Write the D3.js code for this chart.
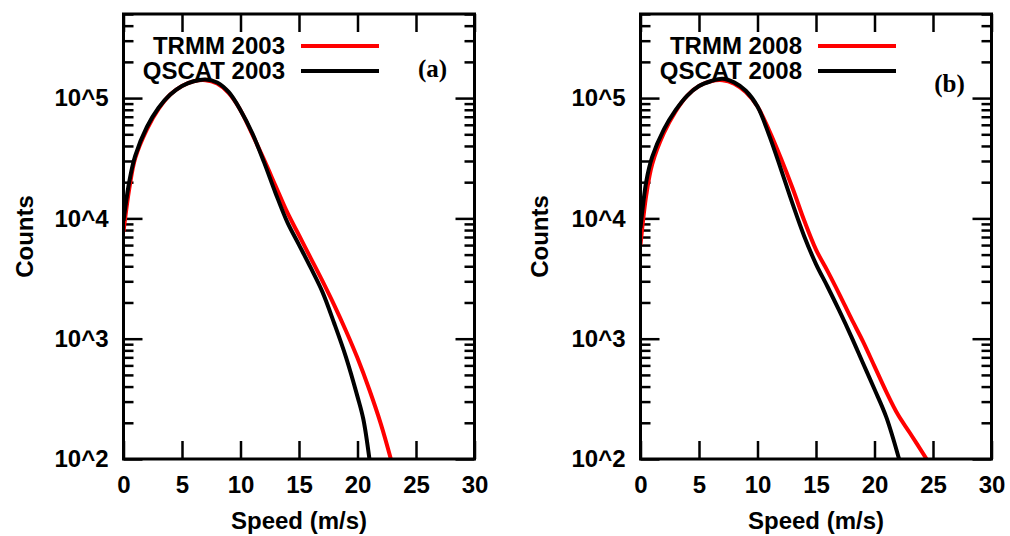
<!DOCTYPE html>
<html>
<head>
<meta charset="utf-8">
<script src="https://cdn.jsdelivr.net/npm/d3@7"></script>
<style>
  body { margin: 0; background: #fff; }
  svg { display: block; }
  text { font-family: "Liberation Sans", Arial, Helvetica, sans-serif; font-weight: bold; fill: #000; }
</style>
</head>
<body>
<svg id="chart" width="1010" height="536"></svg>
<script>
// wind speed (m/s) and counts
var trmm2003Speed  = [0, 0.5, 1, 2, 3, 4, 5, 6, 7, 8, 9, 10, 11, 12, 13, 14, 15, 16, 17, 18, 19, 20, 21, 22, 22.85];
var trmm2003Count  = [7760, 17800, 31600, 55000, 81300, 107000, 126000, 138000, 141000, 132000, 110000, 79400, 50100, 30900, 18600, 11200, 7240, 4680, 3020, 1910, 1170, 690, 380, 195, 100];
var qscat2003Speed = [0, 0.5, 1, 2, 3, 4, 5, 6, 7, 8, 9, 10, 11, 12, 13, 14, 15, 16, 17, 18, 19, 20, 20.5, 21.02];
var qscat2003Count = [9550, 20400, 33100, 57500, 83200, 107000, 126000, 138000, 143000, 135000, 112000, 79400, 51300, 29500, 16200, 9300, 6030, 3890, 2450, 1350, 710, 330, 214, 100];

var trmm2008Speed  = [0, 0.5, 1, 2, 3, 4, 5, 6, 7, 8, 9, 10, 11, 12, 13, 14, 15, 16, 17, 18, 19, 20, 21, 22, 23, 24.45];
var trmm2008Count  = [6030, 15800, 28200, 51300, 77600, 105000, 126000, 138000, 141000, 132000, 112000, 85100, 53700, 31600, 17800, 9550, 5500, 3630, 2340, 1480, 955, 589, 363, 234, 166, 100];
var qscat2008Speed = [0, 0.5, 1, 2, 3, 4, 5, 6, 7, 8, 9, 10, 11, 12, 13, 14, 15, 16, 17, 18, 19, 20, 21, 22.1];
var qscat2008Count = [8320, 20400, 32400, 55000, 79400, 105000, 126000, 138000, 145000, 135000, 115000, 85100, 49000, 25700, 13200, 7080, 4170, 2690, 1700, 1050, 631, 380, 224, 100];

var xTicks = [0, 5, 10, 15, 20, 25, 30];
var yMajor = [100, 1000, 10000, 100000];
var yLabels = ["10^2", "10^3", "10^4", "10^5"];

var panels = [
  { left: 123.5, tag: "(a)", tagY: 77, titleX: 33,
    series: [
      { name: "TRMM 2003", color: "#ff0000", speed: trmm2003Speed, count: trmm2003Count },
      { name: "QSCAT 2003", color: "#000000", speed: qscat2003Speed, count: qscat2003Count }
    ] },
  { left: 640.5, tag: "(b)", tagY: 92, titleX: 548,
    series: [
      { name: "TRMM 2008", color: "#ff0000", speed: trmm2008Speed, count: trmm2008Count },
      { name: "QSCAT 2008", color: "#000000", speed: qscat2008Speed, count: qscat2008Count }
    ] }
];

var plotTop = 14, plotBottom = 459, w = 351;
var svg = d3.select("#chart");

// minor ticks 2..9 within each decade up to 5e5
var yMinor = [];
yMajor.forEach(function(d) {
  for (var k = 2; k <= 9; k++) { if (d * k <= 500000) yMinor.push(d * k); }
});

panels.forEach(function(p, pi) {
  var h = plotBottom - plotTop;
  var x = d3.scaleLinear().domain([0, 30]).range([0, w]);
  var y = d3.scaleLog().domain([100, 500000]).range([h, 0]);

  var g = svg.append("g").attr("transform", "translate(" + p.left + "," + plotTop + ")");

  g.append("clipPath").attr("id", "clip" + pi)
    .append("rect").attr("width", w).attr("height", h);

  // axes, ticks pointing inward
  g.append("g").call(d3.axisLeft(y).tickValues(yMajor).tickSize(-19).tickPadding(15)
    .tickFormat(function(d, i) { return yLabels[i]; }));
  g.append("g").call(d3.axisLeft(y).tickValues(yMinor).tickSize(-10).tickFormat(""));
  g.append("g").attr("transform", "translate(" + w + ",0)")
    .call(d3.axisRight(y).tickValues(yMajor).tickSize(-19).tickFormat(""));
  g.append("g").attr("transform", "translate(" + w + ",0)")
    .call(d3.axisRight(y).tickValues(yMinor).tickSize(-10).tickFormat(""));
  g.append("g").attr("transform", "translate(0," + h + ")")
    .call(d3.axisBottom(x).tickValues(xTicks).tickSize(-18).tickPadding(17));
  g.append("g").call(d3.axisTop(x).tickValues(xTicks).tickSize(-18).tickFormat(""));

  g.selectAll(".domain").remove();
  g.selectAll(".tick line").attr("stroke", "#000").attr("stroke-width", 2.5);
  g.selectAll(".tick text").attr("font-family", null).attr("font-size", null)
    .style("font-size", "24px").attr("fill", "#000");

  // curves
  var line = d3.line()
    .x(function(d) { return x(d[0]); })
    .y(function(d) { return y(d[1]); })
    .curve(d3.curveCatmullRom.alpha(0.5));

  var curves = g.append("g").attr("clip-path", "url(#clip" + pi + ")");
  p.series.forEach(function(s) {
    var pts = s.speed.map(function(v, i) { return [v, s.count[i]]; });
    curves.append("path").datum(pts)
      .attr("d", line)
      .attr("fill", "none")
      .attr("stroke", s.color)
      .attr("stroke-width", 4)
      .attr("stroke-linejoin", "round");
  });

  // frame
  g.append("rect").attr("width", w).attr("height", h)
    .attr("fill", "none").attr("stroke", "#000").attr("stroke-width", 3);

  // legend
  p.series.forEach(function(s, i) {
    var ly = 32 + i * 25;
    g.append("text").attr("x", 161.5).attr("y", ly + 8)
      .attr("text-anchor", "end").style("font-size", "24px").text(s.name);
    g.append("line").attr("x1", 177.5).attr("x2", 255.5).attr("y1", ly).attr("y2", ly)
      .attr("stroke", s.color).attr("stroke-width", 4);
  });

  g.append("text").attr("x", 309).attr("y", p.tagY - plotTop)
    .attr("text-anchor", "middle")
    .style("font-family", "'Liberation Serif', 'Times New Roman', serif")
    .style("font-weight", "bold").style("font-size", "25px")
    .text(p.tag);

  // axis titles
  g.append("text").attr("x", w / 2).attr("y", 529 - plotTop)
    .attr("text-anchor", "middle").style("font-size", "24px").text("Speed (m/s)");
  g.append("text")
    .attr("transform", "translate(" + (p.titleX - p.left) + "," + (h / 2) + ") rotate(-90)")
    .attr("text-anchor", "middle").style("font-size", "24px").text("Counts");
});
</script>
</body>
</html>
